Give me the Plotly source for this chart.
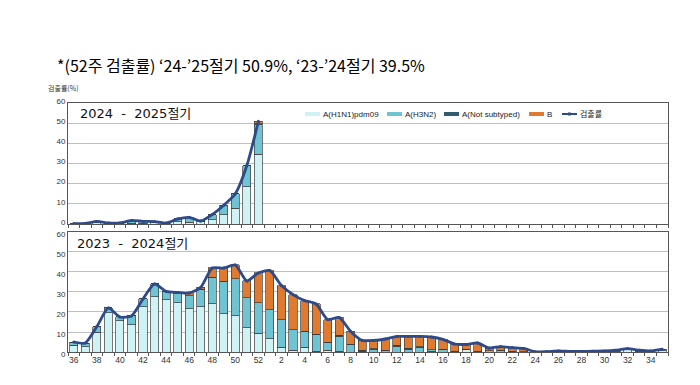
import plotly.graph_objects as go

weeks = [str(w) for w in list(range(36, 53)) + list(range(1, 36))]
tick_text = [w if int(w) % 2 == 0 else "" for w in weeks]

# 2024-2025 season (weeks 36..52)
weeks_2425 = weeks[:17]
h1n1_2425 = [0.1, 0.2, 0.8, 0.3, 0.3, 0.5, 0.4, 0.8, 0.3, 1.2, 0.8, 1.2, 2.0, 4.7, 7.7, 18.5, 34.5]
h3n2_2425 = [0.1, 0.1, 0.4, 0.2, 0.2, 1.0, 0.9, 0.4, 0.2, 1.2, 2.5, 0.2, 2.7, 4.6, 7.3, 10.5, 15.0]
nots_2425 = [0.0, 0.0, 0.1, 0.0, 0.0, 0.3, 0.0, 0.0, 0.0, 0.1, 0.0, 0.1, 0.0, 0.0, 0.0, 0.0, 0.2]
b_2425 = [0.0, 0.0, 0.0, 0.0, 0.0, 0.0, 0.0, 0.0, 0.0, 0.0, 0.0, 0.0, 0.0, 0.0, 0.0, 0.0, 1.2]
rate_2425 = [0.2, 0.3, 1.3, 0.5, 0.5, 1.8, 1.3, 1.2, 0.5, 2.5, 3.3, 1.5, 4.7, 9.3, 15.0, 29.0, 50.9]

# 2023-2024 season (weeks 36..52, 1..35)
h1n1_2324 = [3.5, 2.7, 10.0, 19.7, 15.5, 13.7, 22.7, 27.7, 26.0, 24.7, 21.7, 22.7, 24.0, 19.0, 18.0, 12.0, 9.5,
             6.7, 2.5, 1.0, 2.3, 0.3, 0.8, 0.3, 0.0, 0.0, 0.0, 0.0, 0.0, 0.0, 0.0, 0.3, 0.0, 0.0, 1.5, 0.0, 0.0,
             0.0, 0.0, 0.0, 0.0, 0.1, 0.2, 0.3, 0.2, 0.2, 0.3, 0.5, 1.2, 0.5, 0.3, 0.6]
h3n2_2324 = [1.5, 1.8, 2.7, 2.3, 2.0, 4.3, 3.8, 6.3, 4.3, 4.6, 6.3, 8.6, 13.3, 16.3, 18.7, 15.0, 15.0,
             14.3, 13.7, 10.0, 8.0, 8.5, 4.2, 7.7, 3.7, 0.5, 1.5, 0.8, 3.0, 1.5, 2.4, 0.9, 1.3, 0.0, 0.0, 0.3,
             0.7, 1.0, 0.3, 0.2, 0.1, 0.1, 0.3, 0.1, 0.1, 0.1, 0.2, 0.4, 0.5, 0.4, 0.2, 0.8]
nots_2324 = [0.0, 0.0, 0.0, 0.0, 0.0, 0.0, 0.0, 0.0, 0.0, 0.0, 0.0, 0.0, 0.0, 0.0, 0.0, 0.0, 0.0,
             0.0, 0.0, 0.0, 0.0, 0.2, 0.0, 0.3, 0.3, 0.5, 0.2, 0.2, 0.3, 0.5, 0.3, 0.0, 0.0, 0.5, 0.0, 0.0,
             0.0, 0.0, 0.0, 0.0, 0.0, 0.0, 0.0, 0.0, 0.0, 0.0, 0.0, 0.0, 0.0, 0.0, 0.0, 0.0]
b_2324 = [0.0, 0.0, 0.0, 0.0, 0.0, 0.0, 0.0, 0.0, 0.0, 0.5, 1.5, 1.0, 4.7, 6.7, 6.8, 8.5, 15.0,
          19.7, 17.0, 17.7, 15.4, 15.0, 11.2, 9.0, 6.3, 4.8, 4.1, 5.5, 4.5, 5.8, 5.1, 6.3, 5.0, 3.5, 2.3, 4.2,
          1.3, 1.7, 1.7, 1.5, 0.0, 0.0, 0.0, 0.0, 0.0, 0.0, 0.0, 0.0, 0.0, 0.0, 0.0, 0.0]
rate_2324 = [5.0, 4.5, 12.7, 22.0, 17.5, 18.0, 26.5, 34.0, 30.3, 29.8, 29.5, 32.3, 42.0, 42.0, 43.5, 35.5, 39.5,
             40.7, 33.2, 28.7, 25.7, 24.0, 16.2, 17.3, 10.3, 5.8, 5.8, 6.5, 7.8, 7.8, 7.8, 7.5, 6.3, 4.0, 3.8, 4.5,
             2.0, 2.7, 2.2, 1.8, 0.1, 0.2, 0.5, 0.3, 0.3, 0.4, 0.5, 0.9, 1.7, 0.9, 0.5, 1.4]

series_names = ["A(H1N1)pdm09", "A(H3N2)", "A(Not subtyped)", "B"]
series_colors = ["#CFF3F5", "#6EC4D2", "#2F5D6E", "#E07A2E"]
line_name = "검출률"
line_color = "#2E4A88"

fig = go.Figure()
outline = dict(color="#3C3C3C", width=0.7)

data_2425 = [h1n1_2425, h3n2_2425, nots_2425, b_2425]
data_2324 = [h1n1_2324, h3n2_2324, nots_2324, b_2324]

for name, color, vals in zip(series_names, series_colors, data_2425):
    fig.add_trace(go.Bar(x=weeks_2425, y=vals, name=name, marker=dict(color=color, line=outline),
                         xaxis="x", yaxis="y"))
fig.add_trace(go.Scatter(x=weeks_2425, y=rate_2425, name=line_name, mode="lines+markers",
                         line=dict(color=line_color, width=2.8, shape="spline", smoothing=0.6),
                         marker=dict(size=3, color=line_color), xaxis="x", yaxis="y"))

for name, color, vals in zip(series_names, series_colors, data_2324):
    fig.add_trace(go.Bar(x=weeks, y=vals, name=name, marker=dict(color=color, line=outline),
                         xaxis="x2", yaxis="y2"))
fig.add_trace(go.Scatter(x=weeks, y=rate_2324, name=line_name, mode="lines+markers",
                         line=dict(color=line_color, width=2.8, shape="spline", smoothing=0.6),
                         marker=dict(size=3, color=line_color), xaxis="x2", yaxis="y2"))

axis_font = dict(family="Liberation Sans, Arial, sans-serif", size=8, color="#333333")
xcommon = dict(type="category", categoryorder="array", categoryarray=weeks, range=[-0.5, 51.5],
               tickmode="array", tickvals=weeks, ticktext=tick_text, tickson="boundaries",
               tickangle=0, automargin=False,
               ticks="outside", ticklen=3, tickcolor="#555555", showgrid=False,
               showline=True, linecolor="#555555", linewidth=1, mirror=True,
               tickfont=dict(family="Liberation Sans, Arial, sans-serif", size=8.5, color="#333333"))
ycommon = dict(range=[0, 60], dtick=10, showgrid=True, gridcolor="#BFBFBF", gridwidth=1,
               showline=True, linecolor="#555555", linewidth=1, mirror=True, ticks="",
               tickfont=axis_font, zeroline=False, automargin=False)

# The page body adds an 8px offset; the canvas is sized so the plot lands at the reference pixels.
fig.update_layout(
    width=692, height=377,
    margin=dict(l=60, r=32, t=95, b=33),
    paper_bgcolor="white", plot_bgcolor="white",
    barmode="stack", bargap=0.3,
    xaxis=dict(**xcommon, domain=[0, 1], anchor="y", showticklabels=False),
    yaxis=dict(**ycommon, domain=[0.514, 1.0], anchor="x", ticklabelshift=-2),
    xaxis2=dict(**xcommon, domain=[0, 1], anchor="y2"),
    yaxis2=dict(**ycommon, domain=[0.0, 0.482], anchor="x2", ticklabelshift=2),
    showlegend=False,
    font=dict(family="Liberation Sans, Noto Sans CJK KR, sans-serif"),
)

# manual legend (screen pixel positions converted to paper coords)
PL, PW, PB, PH = 68, 600, 352, 249
def px(x):
    return (x - PL) / PW
def py(y):
    return (PB - y) / PH

legend_y = 114
legend_items = [
    (series_names[0], series_colors[0], 305, "bar"),
    (series_names[1], series_colors[1], 387, "bar"),
    (series_names[2], series_colors[2], 444, "bar"),
    (series_names[3], series_colors[3], 529, "bar"),
    (line_name, line_color, 562, "line"),
]
shapes = []
annotations = []
for name, color, x0, kind in legend_items:
    if kind == "bar":
        shapes.append(dict(type="rect", xref="paper", yref="paper", x0=px(x0), x1=px(x0 + 15),
                           y0=py(legend_y + 2), y1=py(legend_y - 2), fillcolor=color, line=dict(width=0)))
    else:
        shapes.append(dict(type="line", xref="paper", yref="paper", x0=px(x0), x1=px(x0 + 15),
                           y0=py(legend_y), y1=py(legend_y), line=dict(color=color, width=2)))
        shapes.append(dict(type="rect", xref="paper", yref="paper", x0=px(x0 + 6), x1=px(x0 + 9),
                           y0=py(legend_y + 1.5), y1=py(legend_y - 1.5), fillcolor=color,
                           line=dict(width=0)))
    annotations.append(dict(text=name, xref="paper", yref="paper", x=px(x0 + 16), y=py(legend_y),
                            xanchor="left", yanchor="middle", showarrow=False,
                            font=dict(family="Liberation Sans, Noto Sans CJK KR", size=8, color="#222222")))

annotations += [
    dict(text="*(52주 검출률) ‘24-’25절기 50.9%, ‘23-’24절기 39.5%", xref="paper", yref="paper",
         x=px(55), y=py(65), xanchor="left", yanchor="middle", showarrow=False,
         font=dict(family="Noto Sans CJK KR", size=16, color="#000000")),
    dict(text="검출률(%)", xref="paper", yref="paper", x=px(46), y=py(88), xanchor="left", yanchor="middle",
         showarrow=False, font=dict(family="Noto Sans CJK KR", size=7, color="#333333")),
    dict(text="2024  -  2025절기", xref="paper", yref="paper", x=px(78), y=py(113), xanchor="left",
         yanchor="middle", showarrow=False,
         font=dict(family="DejaVu Sans, Noto Sans CJK KR", size=13, color="#111111")),
    dict(text="2023  -  2024절기", xref="paper", yref="paper", x=px(75), y=py(243), xanchor="left",
         yanchor="middle", showarrow=False,
         font=dict(family="DejaVu Sans, Noto Sans CJK KR", size=13, color="#111111")),
    dict(text="<b>50.9</b>", xref="x", yref="y", x=weeks_2425[-1], y=rate_2425[-1] + 0.8,
         xanchor="center", yanchor="bottom", showarrow=False, xshift=3,
         font=dict(family="Liberation Sans, Arial", size=10, color="#111111")),
    dict(text="<b>39.5</b>", xref="x2", yref="y2", x=weeks[16], y=rate_2324[16] + 1.0,
         xanchor="center", yanchor="bottom", showarrow=False, xshift=-4,
         font=dict(family="Liberation Sans, Arial", size=10, color="#111111")),
]
fig.update_layout(annotations=annotations, shapes=shapes)

fig.write_html("out.html")
